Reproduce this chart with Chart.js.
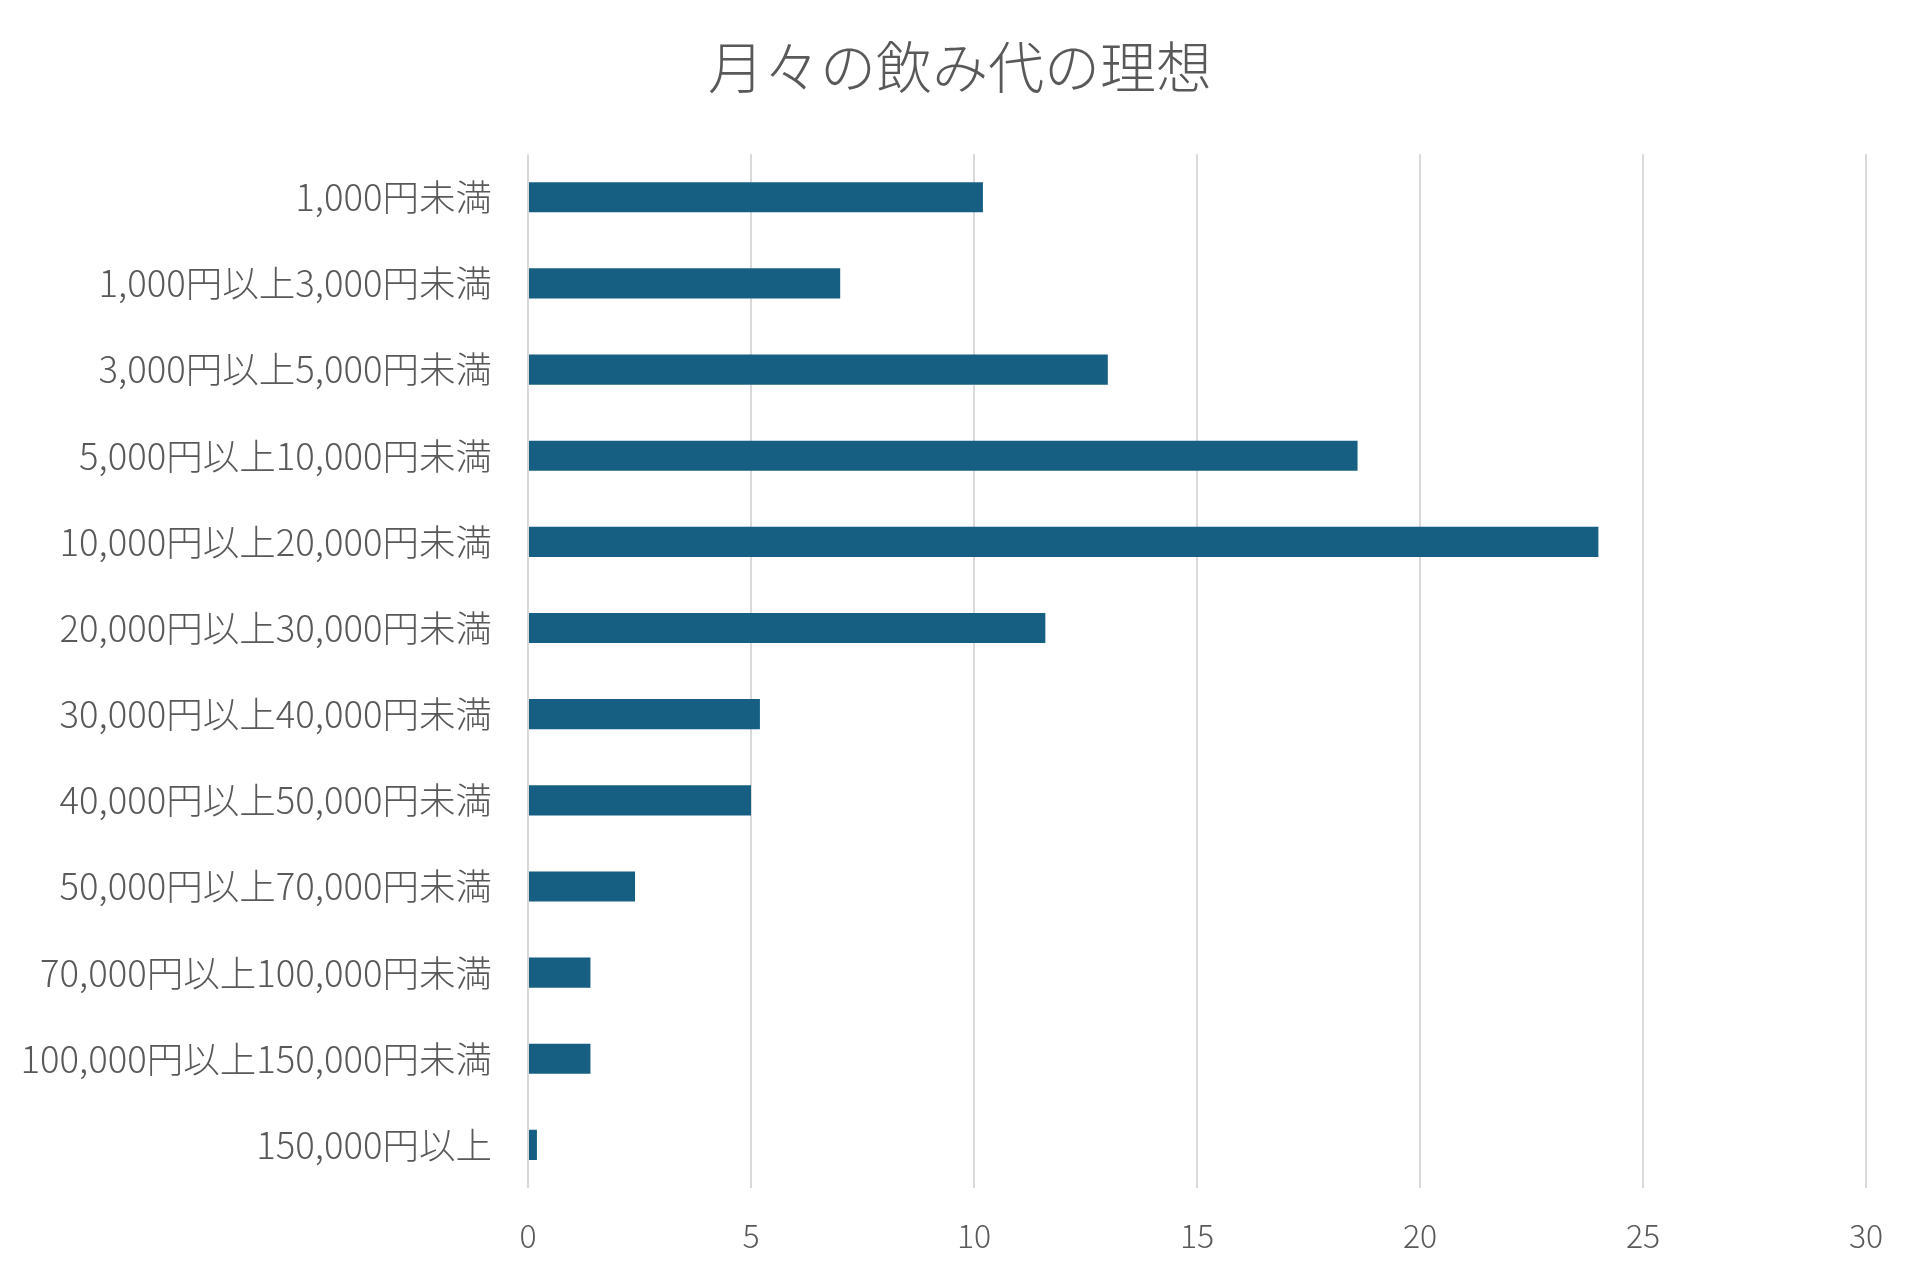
<!DOCTYPE html>
<html>
<head>
<meta charset="utf-8">
<script src="https://cdn.jsdelivr.net/npm/chart.js@4/dist/chart.umd.min.js"></script>
<style>
  html, body { margin: 0; padding: 0; background: #ffffff; }
  #wrap { width: 1920px; height: 1280px; }
</style>
</head>
<body>
<div id="wrap"><canvas id="drinks"></canvas></div>
<script>
var categories = [
    '1,000円未満',
    '1,000円以上3,000円未満',
    '3,000円以上5,000円未満',
    '5,000円以上10,000円未満',
    '10,000円以上20,000円未満',
    '20,000円以上30,000円未満',
    '30,000円以上40,000円未満',
    '40,000円以上50,000円未満',
    '50,000円以上70,000円未満',
    '70,000円以上100,000円未満',
    '100,000円以上150,000円未満',
    '150,000円以上'
]
var counts = [10.2, 7, 13, 18.6, 24, 11.6, 5.2, 5, 2.4, 1.4, 1.4, 0.2]
var xMin = 0
var xMax = 30
var xStep = 5

var fontFamily = '"Noto Sans CJK JP", "Noto Sans", sans-serif'
var textColor = '#595959'

// title should be centred on the whole page, not on the padded layout box
var centreTitle = {
    id: 'centreTitle',
    afterLayout: function(chart) {
        var t = chart.titleBlock
        if (t) {
            t.left = 0
            t.right = chart.width
            t.width = chart.width
        }
    }
}

var chart = new Chart(document.getElementById('drinks'), {
    type: 'bar',
    data: {
        labels: categories,
        datasets: [{
            label: '人数',
            data: counts,
            backgroundColor: '#175f82',
            borderWidth: 0,
            categoryPercentage: 1,
            barPercentage: 0.35
        }]
    },
    options: {
        indexAxis: 'y',
        responsive: true,
        maintainAspectRatio: false,
        animation: false,
        layout: {
            padding: { left: 0, right: 54, top: 0, bottom: 0 }
        },
        plugins: {
            legend: { display: false },
            tooltip: { enabled: false },
            title: {
                display: true,
                text: '月々の飲み代の理想',
                color: textColor,
                font: { family: fontFamily, size: 56, weight: 300, lineHeight: 1.2 },
                padding: { top: 33, bottom: 54 }
            }
        },
        scales: {
            x: {
                min: xMin,
                max: xMax,
                ticks: {
                    stepSize: xStep,
                    color: textColor,
                    padding: 29,
                    font: { family: fontFamily, size: 32, weight: 300 }
                },
                grid: {
                    color: '#d9d9d9',
                    lineWidth: 2,
                    drawTicks: false
                },
                border: { display: false },
                afterFit: function(axis) {
                    axis.height = 92
                }
            },
            y: {
                ticks: {
                    color: textColor,
                    padding: 36,
                    font: { family: fontFamily, size: 36.5, weight: 300 }
                },
                grid: { display: false, drawTicks: false },
                border: { display: false },
                afterFit: function(axis) {
                    axis.width = 528
                }
            }
        }
    },
    plugins: [centreTitle]
})
</script>
</body>
</html>
